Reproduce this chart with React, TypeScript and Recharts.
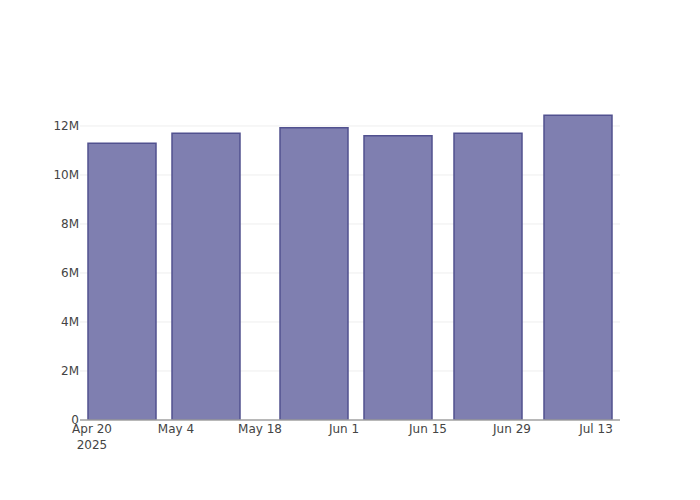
import React from "react";
import { BarChart, Bar, XAxis, YAxis, CartesianGrid } from "recharts";

const barDates: number[] = [
  Date.UTC(2025, 3, 25),
  Date.UTC(2025, 4, 9),
  Date.UTC(2025, 4, 27),
  Date.UTC(2025, 5, 10),
  Date.UTC(2025, 5, 25),
  Date.UTC(2025, 6, 10),
];
const barValues: number[] = [11.29e6, 11.7e6, 11.93e6, 11.6e6, 11.7e6, 12.44e6];

const xTicks: number[] = [
  Date.UTC(2025, 3, 20),
  Date.UTC(2025, 4, 4),
  Date.UTC(2025, 4, 18),
  Date.UTC(2025, 5, 1),
  Date.UTC(2025, 5, 15),
  Date.UTC(2025, 5, 29),
  Date.UTC(2025, 6, 13),
];
const xDomain: number[] = [Date.UTC(2025, 3, 18), Date.UTC(2025, 6, 17)];
const yTicks: number[] = [0, 2e6, 4e6, 6e6, 8e6, 10e6, 12e6];
const gridValues: number[] = [2e6, 4e6, 6e6, 8e6, 10e6, 12e6];
const yMax = 13.06e6;
const monthNames = ["Jan", "Feb", "Mar", "Apr", "May", "Jun", "Jul", "Aug", "Sep", "Oct", "Nov", "Dec"];

const data = barDates.map((d, i) => ({ date: d, value: barValues[i] }));

const FONT = '"DejaVu Sans", sans-serif';

const XTick = (props: any) => {
  const { x, y, payload, index } = props;
  const d = new Date(payload.value);
  const label = `${monthNames[d.getUTCMonth()]} ${d.getUTCDate()}`;
  return (
    <g>
      <text x={x} y={y + 13} textAnchor="middle" fontFamily={FONT} fontSize={12} fill="#444">
        {label}
      </text>
      {index === 0 && (
        <text x={x} y={y + 29} textAnchor="middle" fontFamily={FONT} fontSize={12} fill="#444">
          {d.getUTCFullYear()}
        </text>
      )}
    </g>
  );
};

const YTick = (props: any) => {
  const { x, y, payload } = props;
  const v = payload.value;
  const label = v === 0 ? "0" : `${v / 1e6}M`;
  return (
    <text x={x} y={y + 4} textAnchor="end" fontFamily={FONT} fontSize={12} fill="#444">
      {label}
    </text>
  );
};

export default function App() {
  return (
    <div style={{ position: "absolute", left: 0, top: 0, width: 700, height: 500, background: "#fff" }}>
      <BarChart
        width={700}
        height={500}
        data={data}
        margin={{ top: 100, right: 80, bottom: 40, left: 0 }}
        barCategoryGap="10%"
      >
        <CartesianGrid
          vertical={false}
          horizontalValues={gridValues}
          stroke="#eeeeee"
          strokeWidth={1}
        />
        <XAxis
          dataKey="date"
          type="number"
          scale="time"
          domain={xDomain}
          ticks={xTicks}
          allowDataOverflow
          height={40}
          tickLine={false}
          tickSize={0}
          tickMargin={0}
          axisLine={{ stroke: "#a0a0a0", strokeWidth: 1.5 }}
          tick={<XTick />}
          interval={0}
        />
        <YAxis
          type="number"
          domain={[0, yMax]}
          ticks={yTicks}
          allowDataOverflow
          width={80}
          axisLine={false}
          tickLine={false}
          tickSize={0}
          tickMargin={1}
          tick={<YTick />}
          interval={0}
        />
        <Bar
          dataKey="value"
          fill="#7f7fb0"
          stroke="#51518f"
          strokeWidth={1.5}
          barSize={68}
          isAnimationActive={false}
        />
      </BarChart>
    </div>
  );
}
